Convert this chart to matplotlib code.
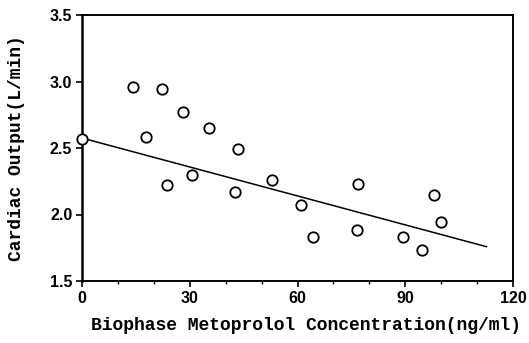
import numpy as np
import matplotlib
matplotlib.use("Agg")
import matplotlib.pyplot as plt
from matplotlib.ticker import MultipleLocator

conc = [0.0, 14.1, 22.4, 17.8, 28.1, 35.3, 23.8, 30.6, 43.3, 42.6,
        53.0, 60.9, 64.3, 76.9, 76.6, 89.3, 94.8, 97.9, 99.9]
output = [2.57, 2.96, 2.94, 2.58, 2.77, 2.65, 2.22, 2.30, 2.49, 2.17,
          2.26, 2.07, 1.83, 2.23, 1.88, 1.83, 1.73, 2.15, 1.94]

# regression line drawn in the figure
line_x = [0.0, 112.6]
line_y = [2.575, 1.758]

x_ticks = [0, 30, 60, 90, 120]
y_ticks = [1.5, 2.0, 2.5, 3.0, 3.5]

fig = plt.figure(figsize=(5.29, 3.43), dpi=100)
ax = fig.add_axes([82/529, 1 - 281/343, (513 - 82)/529, (281 - 15)/343])

ax.plot(conc, output, linestyle="none", marker="o", markersize=7.5,
        markerfacecolor="white", markeredgecolor="black", markeredgewidth=1.3,
        zorder=3, clip_on=False)
ax.plot(line_x, line_y, color="black", linewidth=1.1, zorder=2)

ax.set_xlim(0, 120)
ax.set_ylim(1.5, 3.5)
ax.set_xticks(x_ticks)
ax.set_yticks(y_ticks)
ax.set_yticklabels(["%.1f" % v for v in y_ticks])
ax.xaxis.set_minor_locator(MultipleLocator(10))

for s in ax.spines.values():
    s.set_linewidth(1.4)
ax.spines["left"].set_linewidth(1.8)

ax.tick_params(axis="both", which="major", direction="out", length=4,
               width=1.2, labelsize=11.5, pad=3)
ax.tick_params(axis="x", which="minor", direction="out", length=2, width=1)
for lab in ax.get_xticklabels() + ax.get_yticklabels():
    lab.set_family("Liberation Sans")
    lab.set_weight("bold")

mono = {"family": "Liberation Mono", "weight": "bold", "size": 13}
ax.set_xlabel("Biophase Metoprolol Concentration(ng/ml)", fontdict=mono, labelpad=8)
ax.xaxis.label.set_x(0.52)
ax.set_ylabel("Cardiac Output(L/min)", fontdict=mono, labelpad=18)

fig.savefig("out.png", dpi=100)
